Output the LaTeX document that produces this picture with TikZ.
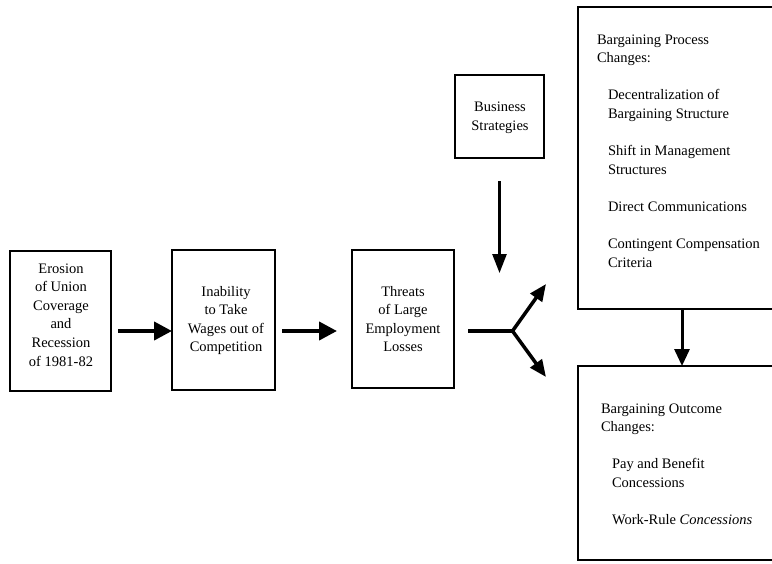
\documentclass[tikz,border=0pt]{standalone}
\usepackage{fontspec}
\setmainfont{Liberation Serif}
\usetikzlibrary{arrows.meta}
\begin{document}
\begin{tikzpicture}[x=1pt,y=-1pt,
  box/.style={draw=black, line width=1.7pt, inner sep=0pt, outer sep=0pt},
  lbl/.style={inner sep=0pt, outer sep=0pt, font=\fontsize{14.5}{18.6}\selectfont},
  bigarr/.style={line width=4pt, -{Triangle[length=18pt,width=18pt]}},
  varr/.style={line width=2.6pt, -{Triangle[length=19pt,width=14pt]}},
  forkarr/.style={line width=3.5pt, -{Triangle[length=17pt,width=14pt]}},
  parr/.style={line width=3pt, -{Triangle[length=17pt,width=15pt]}},
  forkline/.style={line width=3.5pt}
]
\useasboundingbox (0,0) rectangle (772,563);
\fill[white] (0,0) rectangle (772,563);
\clip (0,0) rectangle (772,563);

% boxes
\node[box, minimum width=101pt, minimum height=140pt] (b1) at (60.5,321) {};
\node[box, minimum width=103pt, minimum height=140pt] (b2) at (223.5,320) {};
\node[box, minimum width=102pt, minimum height=138pt] (b3) at (403,319) {};
\node[box, minimum width=89pt, minimum height=83pt] (bs) at (499.5,116.5) {};
\node[box, minimum width=208pt, minimum height=302pt] (pc) at (682,158) {};
\node[box, minimum width=208pt, minimum height=194pt] (oc) at (682,463) {};

% texts box 1
\foreach \t [count=\i] in {Erosion,of Union,Coverage,and,Recession,of 1981-82}
  \node[lbl, anchor=base] (t1-\i) at (61,{273+18.6*(\i-1)}) {\t};
% box 2
\foreach \t [count=\i] in {Inability,to Take,Wages out of,Competition}
  \node[lbl, anchor=base] (t2-\i) at (226,{296+18.6*(\i-1)}) {\t};
% box 3
\foreach \t [count=\i] in {Threats,of Large,Employment,Losses}
  \node[lbl, anchor=base] (t3-\i) at (403,{296+18.6*(\i-1)}) {\t};
% business
\foreach \t [count=\i] in {Business,Strategies}
  \node[lbl, anchor=base] (ts-\i) at (500,{111.5+18.6*(\i-1)}) {\t};

% process box text
\node[lbl, anchor=base west] (p1) at (597,44) {Bargaining Process};
\node[lbl, anchor=base west] (p2) at (597,62.6) {Changes:};
\node[lbl, anchor=base west] (p3) at (608,99.5) {Decentralization of};
\node[lbl, anchor=base west] (p4) at (608,118.1) {Bargaining Structure};
\node[lbl, anchor=base west] (p5) at (608,155.5) {Shift in Management};
\node[lbl, anchor=base west] (p6) at (608,174.1) {Structures};
\node[lbl, anchor=base west] (p7) at (608,211.5) {Direct Communications};
\node[lbl, anchor=base west] (p8) at (608,248.5) {Contingent Compensation};
\node[lbl, anchor=base west] (p9) at (608,267.1) {Criteria};

% outcome box text
\node[lbl, anchor=base west] (o1) at (601,413) {Bargaining Outcome};
\node[lbl, anchor=base west] (o2) at (601,431.6) {Changes:};
\node[lbl, anchor=base west] (o3) at (612,468.5) {Pay and Benefit};
\node[lbl, anchor=base west] (o4) at (612,487.1) {Concessions};
\node[lbl, anchor=base west] (o5) at (612,524.5) {Work-Rule \textit{Concessions}};

% connectors
\coordinate (fork) at (512.5,331);
\coordinate (upTip) at (546,284);
\coordinate (downTip) at (546,377);

\draw[bigarr, shorten <=7pt] (b1.east |- fork) -- (b2.west |- fork);
\draw[bigarr, shorten <=7pt, shorten >=15pt] (b2.east |- fork) -- (b3.west |- fork);
\draw[forkline, shorten <=14pt] (b3.east |- fork) -- (fork);
\draw[forkarr] (fork) -- (upTip);
\draw[forkarr] (fork) -- (downTip);
\draw[varr, shorten <=23pt, shorten >=58pt] (bs.south) -- (bs.south |- fork);
\draw[parr] (pc.south) -- (oc.north);
\end{tikzpicture}
\end{document}
